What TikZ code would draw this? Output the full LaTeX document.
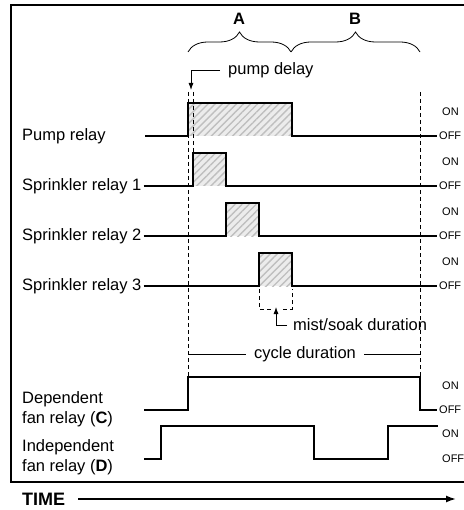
\documentclass[tikz,border=0pt]{standalone}
\usepackage{fontspec}
\setmainfont{Liberation Sans}
\usepackage{tikz}
\usetikzlibrary{arrows.meta, positioning, decorations.pathreplacing, patterns.meta}

\begin{document}
\begin{tikzpicture}[x=1pt, y=-1pt, font=\fontsize{16.5}{20}\selectfont]
    \tikzstyle{signal} = [draw, line width=1.6pt]
    \tikzstyle{hatch} = [preaction={fill=gray!15}, pattern={Lines[angle=45, distance=5pt, line width=1.4pt]}, pattern color=gray!50]
    \tikzstyle{tick} = [draw, line width=0.8pt, dash pattern=on 4pt off 3pt]
    \tikzstyle{brace} = [draw, line width=0.8pt, decorate, decoration={brace, amplitude=20pt}]
    \tikzstyle{level} = [font=\fontsize{11}{12}\selectfont, anchor=west, inner xsep=2pt, inner ysep=0pt]
    \tikzstyle{relay} = [anchor=west, align=left, inner sep=0pt]
    \tikzstyle{note} = [inner xsep=8pt, inner ysep=0pt]
    \tikzstyle{line} = [draw, line width=0.8pt, -{Latex[length=7pt, width=5pt]}]

    \useasboundingbox (0,0) rectangle (463,510);
    \draw[line width=1.6pt] (470,5) -- (11,5) -- (11,482) -- (470,482);

    \path[brace] (188,52) -- (291,52);
    \path[brace] (291,52) -- (420,52);
    \node[font=\fontsize{16.5}{20}\bfseries] (a) at (239,19) {A};
    \node[font=\fontsize{16.5}{20}\bfseries] (b) at (355,19) {B};

    \path[hatch] (188,103) rectangle (292,136);
    \path[hatch] (193,153) rectangle (226,186);
    \path[hatch] (226,203) rectangle (259,236);
    \path[hatch] (259,253) rectangle (292,286);

    \path[tick] (188,92) -- (188,377);
    \path[tick] (193,92) -- (193,153);
    \path[tick] (420,92) -- (420,377);

    \node[note, anchor=west] (delay) at (220,70) {pump delay};
    \coordinate (delaytip) at (191,90);
    \path[line] (delay.west) -| (delaytip);

    \node[relay] (pump) at (22,136) {Pump relay};
    \node[level] (on1) at (440,112) {ON};
    \node[level] (off1) at (437,136) {OFF};
    \coordinate (pumpin) at (145,136);
    \path[signal] (pumpin) -- (188,136) |- (292,103) -- (292,136) -- (off1.west);

    \node[relay] (spr1) at (22,186) {Sprinkler relay 1};
    \node[level] (on2) at (440,162) {ON};
    \node[level] (off2) at (437,186) {OFF};
    \path[signal] ([xshift=2pt]spr1.east) -- (193,186) |- (226,153) -- (226,186) -- (off2.west);

    \node[relay] (spr2) at (22,236) {Sprinkler relay 2};
    \node[level] (on3) at (440,212) {ON};
    \node[level] (off3) at (437,236) {OFF};
    \path[signal] ([xshift=2pt]spr2.east) -- (226,236) |- (259,203) -- (259,236) -- (off3.west);

    \node[relay] (spr3) at (22,286) {Sprinkler relay 3};
    \node[level] (on4) at (440,262) {ON};
    \node[level] (off4) at (437,286) {OFF};
    \path[signal] ([xshift=2pt]spr3.east) -- (259,286) |- (292,253) -- (292,286) -- (off4.west);

    \path[tick] (259,289) -- (259,309) -- (272,309);
    \path[tick] (283,309) -- (292,309) -- (292,289);
    \node[note, anchor=west, inner xsep=6pt] (mist) at (287,325) {mist/soak duration};
    \coordinate (misttip) at (276,307);
    \path[line] (mist.west) -| (misttip);

    \node[note] (cycle) at (305,354) {cycle duration};
    \coordinate (cyclel) at (188,354);
    \coordinate (cycler) at (420,354);
    \draw[line width=0.8pt] (cyclel) -- (cycle.west);
    \draw[line width=0.8pt] (cycle.east) -- (cycler);

    \node[relay] (dep) at (22,409) {Dependent\\fan relay (\textbf{C})};
    \node[level] (on5) at (440,386) {ON};
    \node[level] (off5) at (437,410) {OFF};
    \coordinate (depin) at (144,410);
    \path[signal] (depin) -- (188,410) |- (420,377) -- (420,410) -- (off5.west);

    \node[relay] (ind) at (22,457) {Independent\\fan relay (\textbf{D})};
    \node[level] (on6) at (440,434) {ON};
    \node[level] (off6) at (440,459) {OFF};
    \coordinate (indin) at (144,459);
    \coordinate (indout) at (438,426);
    \path[signal] (indin) -- (161,459) |- (314,426) -- (314,459) -- (388,459) |- (indout);

    \node[font=\fontsize{18}{20}\bfseries, anchor=west, inner sep=0pt] (time) at (22,499) {TIME};
    \coordinate[right=13pt of time] (timein);
    \coordinate (timeout) at (456,499);
    \path[signal, -{Latex[length=10pt, width=7pt]}] (timein) -- (timeout);
\end{tikzpicture}
\end{document}
